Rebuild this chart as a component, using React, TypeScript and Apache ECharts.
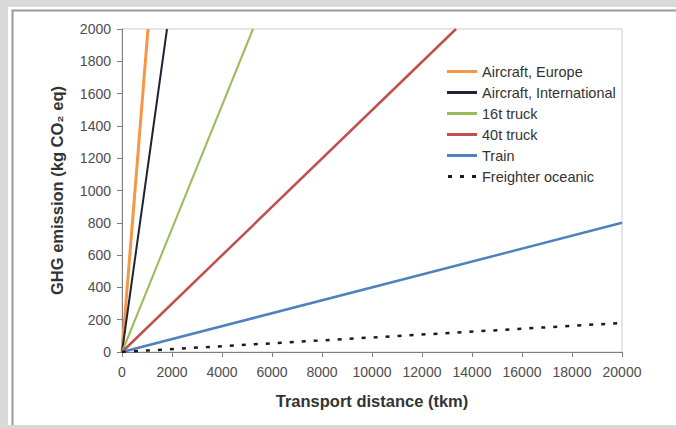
import React, { useEffect, useRef } from "react";
import * as echarts from "echarts";

// Emission lines for each transport mode: [distance (tkm), emission (kg CO2 eq)]
const seriesNames = [
  "Aircraft, Europe",
  "Aircraft, International",
  "16t truck",
  "40t truck",
  "Train",
  "Freighter oceanic",
];
const aircraftEurope = [[0, 0], [1040, 2000]];
const aircraftInternational = [[0, 0], [1800, 2000]];
const truck16t = [[0, 0], [5240, 2000]];
const truck40t = [[0, 0], [13360, 2000]];
const train = [[0, 0], [20000, 800]];
const freighterOceanic = [[0, 0], [20000, 180]];

const seriesData = [
  aircraftEurope,
  aircraftInternational,
  truck16t,
  truck40t,
  train,
  freighterOceanic,
];
const seriesColors = ["#f79646", "#1f2530", "#9bbb59", "#c0504d", "#4f81bd", "#1a1a1a"];
const seriesWidths = [3, 2, 2, 2.5, 2.5, 2.5];

const FONT = "'Liberation Sans', Arial, sans-serif";

// Legend keys: a solid bar, or three short dashes for the dotted series
const SOLID_KEY = "path://M0,0H30V3H0Z";
const DOTTED_KEY = "path://M0,0H4V3H0ZM12,0H16V3H12ZM24,0H28V3H24Z";

export default function App() {
  const ref = useRef<HTMLDivElement>(null);

  useEffect(() => {
    if (!ref.current) return;
    const chart = echarts.init(ref.current, undefined, { renderer: "svg" });
    chart.setOption({
      animation: false,
      backgroundColor: "#d9d9d9",
      textStyle: { fontFamily: FONT },
      graphic: [
        {
          type: "rect",
          z: -10,
          shape: { x: 8, y: 7, width: 668, height: 418 },
          style: { fill: "#ffffff" },
        },
        {
          type: "polyline",
          z: -9,
          shape: { points: [[12.5, 425], [12.5, 10.5], [676, 10.5]] },
          style: { stroke: "#9a9a9a", lineWidth: 2, fill: "none" },
        },
      ],
      grid: {
        left: 122,
        top: 29,
        right: 54,
        bottom: 76,
        show: true,
        borderColor: "#cccccc",
        borderWidth: 1,
        backgroundColor: "transparent",
      },
      legend: {
        orient: "vertical",
        left: 442,
        top: 59,
        itemWidth: 30,
        itemHeight: 3,
        itemGap: 6,
        textStyle: { fontSize: 14.5, color: "#333333", fontFamily: FONT },
        data: seriesNames.map((name, i) => ({
          name,
          icon: i === 5 ? DOTTED_KEY : SOLID_KEY,
        })),
      },
      xAxis: {
        type: "value",
        min: 0,
        max: 20000,
        interval: 2000,
        name: "Transport distance (tkm)",
        nameLocation: "middle",
        nameGap: 40,
        nameTextStyle: { fontSize: 16.5, fontWeight: "bold", color: "#333333", fontFamily: FONT },
        axisLine: { show: true, lineStyle: { color: "#808080", width: 1 } },
        axisTick: { show: true, inside: false, length: 5, lineStyle: { color: "#808080" } },
        axisLabel: {
          fontSize: 14,
          color: "#4d4d4d",
          margin: 13,
          fontFamily: FONT,
          formatter: (v: number) => String(v),
        },
        splitLine: { show: false },
      },
      yAxis: {
        type: "value",
        min: 0,
        max: 2000,
        interval: 200,
        name: "GHG emission (kg CO₂ eq)",
        nameLocation: "middle",
        nameGap: 57,
        nameTextStyle: { fontSize: 16.5, fontWeight: "bold", color: "#333333", fontFamily: FONT },
        axisLine: { show: true, lineStyle: { color: "#808080", width: 1 } },
        axisTick: { show: true, inside: false, length: 5, lineStyle: { color: "#808080" } },
        axisLabel: {
          fontSize: 14,
          color: "#4d4d4d",
          margin: 11,
          fontFamily: FONT,
          formatter: (v: number) => String(v),
        },
        splitLine: { show: false },
      },
      series: seriesNames.map((name, i) => ({
        name,
        type: "line",
        data: seriesData[i],
        symbol: "none",
        showSymbol: false,
        clip: true,
        color: seriesColors[i],
        lineStyle: {
          color: seriesColors[i],
          width: seriesWidths[i],
          type: i === 5 ? [4, 8] : "solid",
          cap: "butt",
        },
      })),
    });
    return () => chart.dispose();
  }, []);

  return (
    <div
      ref={ref}
      style={{ position: "absolute", left: 0, top: 0, width: 676, height: 428 }}
    />
  );
}
